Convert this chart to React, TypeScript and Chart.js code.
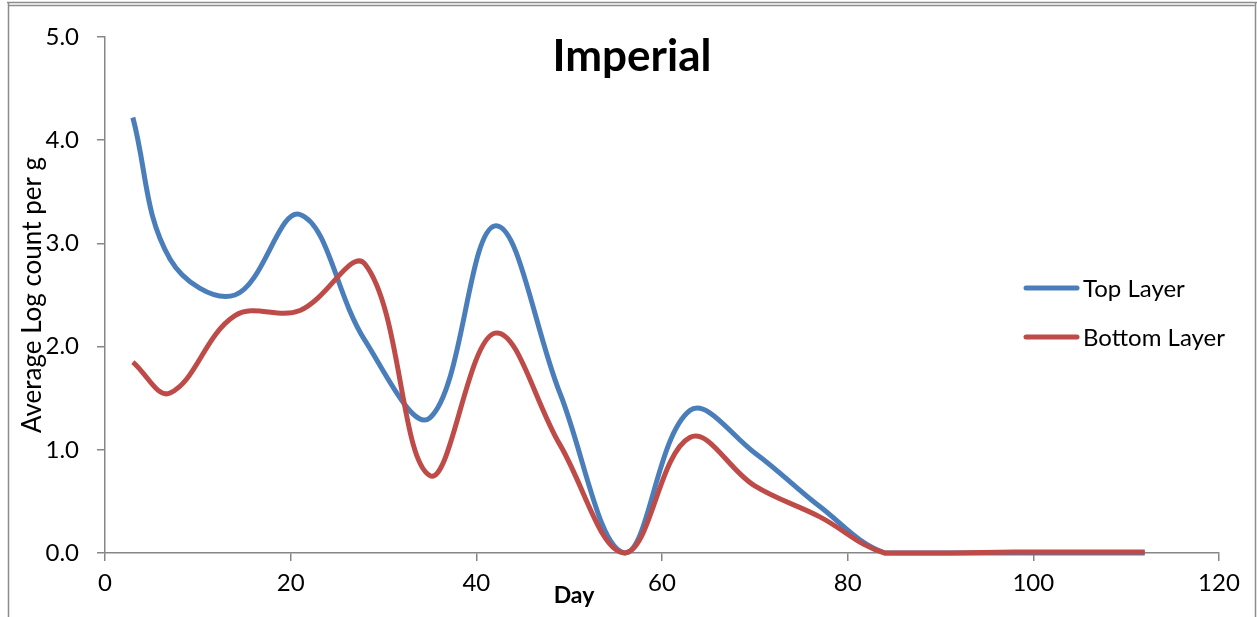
import React, { useEffect, useRef } from "react";
import { Chart, registerables } from "chart.js";

Chart.register(...registerables);

const days = [3, 7, 14, 21, 28, 35, 42, 49, 56, 63, 70, 77, 84, 91, 98, 105, 112];
const topLayer = [4.22, 2.85, 2.5, 3.28, 2.06, 1.31, 3.17, 1.55, 0, 1.38, 0.97, 0.45, 0, 0, 0, 0, 0];
const bottomLayer = [1.85, 1.55, 2.3, 2.35, 2.8, 0.75, 2.13, 1.05, 0, 1.12, 0.65, 0.35, 0, 0, 0.01, 0.01, 0.01];
const seriesNames = ["Top Layer", "Bottom Layer"];
const seriesColors = ["#4A7EBB", "#BE4B48"];
const xTicks = [0, 20, 40, 60, 80, 100, 120];
const yTicks = [0, 1, 2, 3, 4, 5];
const chartTitle = "Imperial";
const xTitle = "Day";
const yTitle = "Average Log count per g";

const FONT = "Lato, 'Open Sans', sans-serif";

const decorPlugin = {
  id: "decor",
  beforeDraw(chart: any) {
    const ctx = chart.ctx;
    ctx.save();
    ctx.fillStyle = "#ffffff";
    ctx.fillRect(0, 0, chart.width, chart.height);
    ctx.strokeStyle = "#8c8c8c";
    ctx.lineWidth = 1.5;
    ctx.beginPath();
    ctx.moveTo(7, 2.5);
    ctx.lineTo(chart.width, 2.5);
    ctx.moveTo(8.5, 5.5);
    ctx.lineTo(1254.5, 5.5);
    ctx.moveTo(8.5, 2.5);
    ctx.lineTo(8.5, chart.height);
    ctx.moveTo(1255.5, 2.5);
    ctx.lineTo(1255.5, chart.height);
    ctx.stroke();
    ctx.restore();
  },
  afterDraw(chart: any) {
    const ctx = chart.ctx;
    const area = chart.chartArea;
    ctx.save();
    // title
    ctx.fillStyle = "#000";
    ctx.font = `bold 44px ${FONT}`;
    ctx.textAlign = "center";
    ctx.textBaseline = "alphabetic";
    ctx.fillText(chartTitle, 632, 71);
    // x title
    ctx.font = `bold 23px ${FONT}`;
    ctx.fillText(xTitle, 574, 603);
    // y title
    ctx.save();
    ctx.translate(41, (area.top + area.bottom) / 2);
    ctx.rotate(-Math.PI / 2);
    ctx.font = `26px ${FONT}`;
    ctx.textAlign = "center";
    ctx.fillText(yTitle, 0, 0);
    ctx.restore();
    // legend
    const ys = [288, 337];
    chart.data.datasets.forEach((ds: any, i: number) => {
      ctx.strokeStyle = ds.borderColor;
      ctx.lineWidth = 5;
      ctx.lineCap = "round";
      ctx.beginPath();
      ctx.moveTo(1026, ys[i]);
      ctx.lineTo(1077, ys[i]);
      ctx.stroke();
      ctx.fillStyle = "#000";
      ctx.font = `24px ${FONT}`;
      ctx.textAlign = "left";
      ctx.textBaseline = "middle";
      ctx.fillText(ds.label, 1083, ys[i] + 1);
    });
    ctx.restore();
  },
};

export default function App() {
  const ref = useRef<HTMLCanvasElement | null>(null);
  useEffect(() => {
    if (!ref.current) return;
    const chart = new Chart(ref.current, {
      type: "line",
      data: {
        datasets: [
          {
            label: seriesNames[0],
            data: days.map((d, i) => ({ x: d, y: topLayer[i] })),
            borderColor: seriesColors[0],
            backgroundColor: seriesColors[0],
            borderWidth: 5,
            pointRadius: 0,
            tension: 0.38,
            order: 1,
            clip: false,
          },
          {
            label: seriesNames[1],
            data: days.map((d, i) => ({ x: d, y: bottomLayer[i] })),
            borderColor: seriesColors[1],
            backgroundColor: seriesColors[1],
            borderWidth: 5,
            pointRadius: 0,
            tension: 0.38,
            order: 0,
            clip: false,
          },
        ],
      },
      plugins: [decorPlugin],
      options: {
        animation: false,
        responsive: false,
        maintainAspectRatio: false,
        layout: { padding: { top: 37, right: 38, left: 0, bottom: 0 } },
        plugins: {
          legend: { display: false },
          title: { display: false },
          tooltip: { enabled: false },
        },
        scales: {
          x: {
            type: "linear",
            min: 0,
            max: 120,
            afterBuildTicks: (s: any) => {
              s.ticks = xTicks.map((v) => ({ value: v }));
            },
            afterFit: (s: any) => {
              s.height = 64;
            },
            ticks: {
              color: "#000",
              font: { family: FONT, size: 24 },
              padding: 8,
              maxRotation: 0,
              autoSkip: false,
            },
            grid: { drawOnChartArea: false, drawTicks: true, tickLength: 8, color: "#868686", lineWidth: 1.5 },
            border: { display: true, color: "#868686", width: 1.5 },
          },
          y: {
            type: "linear",
            min: 0,
            max: 5,
            afterBuildTicks: (s: any) => {
              s.ticks = yTicks.map((v) => ({ value: v }));
            },
            afterFit: (s: any) => {
              s.width = 105;
            },
            ticks: {
              color: "#000",
              font: { family: FONT, size: 24 },
              padding: 18,
              callback: (v: any) => Number(v).toFixed(1),
            },
            grid: { drawOnChartArea: false, drawTicks: true, tickLength: 8, color: "#868686", lineWidth: 1.5 },
            border: { display: true, color: "#868686", width: 1.5 },
          },
        },
      },
    });
    return () => chart.destroy();
  }, []);
  return (
    <div style={{ position: "absolute", left: 0, top: 0, width: 1257, height: 617, background: "#fff" }}>
      <canvas ref={ref} width={1257} height={617} style={{ display: "block", width: 1257, height: 617 }} />
    </div>
  );
}
